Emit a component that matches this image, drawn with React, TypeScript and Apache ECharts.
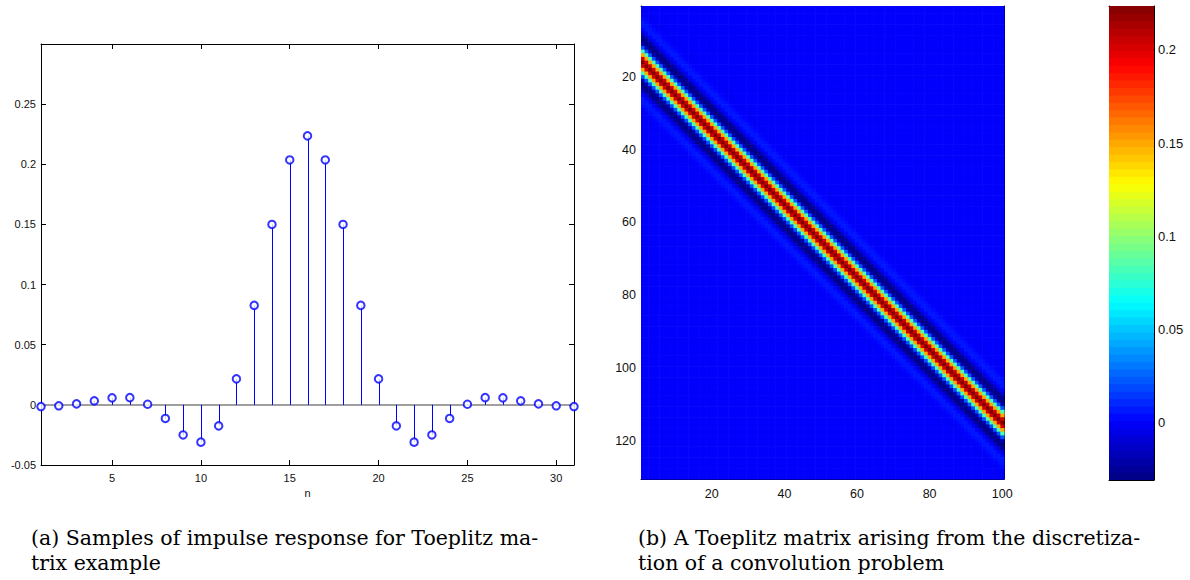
import React, { useEffect, useRef } from "react";
import * as echarts from "echarts";

// ---- Data ----
const N_INDEX = [1, 2, 3, 4, 5, 6, 7, 8, 9, 10, 11, 12, 13, 14, 15, 16, 17, 18, 19, 20, 21, 22, 23, 24, 25, 26, 27, 28, 29, 30, 31];
const H_VALUES = [
  -0.0014, -0.0008, 0.0008, 0.0033, 0.0058, 0.006, 0.0005, -0.0113, -0.025, -0.031, -0.0175,
  0.0216, 0.0827, 0.15, 0.2036, 0.2236, 0.2036, 0.15, 0.0827, 0.0216,
  -0.0175, -0.031, -0.025, -0.0113, 0.0005, 0.006, 0.0058, 0.0033, 0.0008, -0.0008, -0.0014,
];
const STEM_X_TICKS = [5, 10, 15, 20, 25, 30];
const STEM_Y_TICKS = [-0.05, 0, 0.05, 0.1, 0.15, 0.2, 0.25];
const MATRIX_COLS = 100;
const MATRIX_ROWS = MATRIX_COLS + H_VALUES.length - 1; // 130
const MAT_X_TICKS = [20, 40, 60, 80, 100];
const MAT_Y_TICKS = [20, 40, 60, 80, 100, 120];
const CBAR_TICKS = [0, 0.05, 0.1, 0.15, 0.2];
const CBAR_LEVELS = 64;
const JET = ["#000080", "#0000ff", "#0080ff", "#00ffff", "#80ff80", "#ffff00", "#ff8000", "#ff0000", "#800000"];
const CAPTION_A = ["(a) Samples of impulse response for Toeplitz ma-", "trix example"];
const CAPTION_B = ["(b) A Toeplitz matrix arising from the discretiza-", "tion of a convolution problem"];

const H_MIN = Math.min(...H_VALUES);
const H_MAX = Math.max(...H_VALUES);

// Toeplitz (convolution) matrix built from the impulse response
const MATRIX_DATA: number[][] = [];
for (let c = 1; c <= MATRIX_COLS; c++) {
  for (let r = 1; r <= MATRIX_ROWS; r++) {
    const k = r - c;
    const v = k >= 0 && k < H_VALUES.length ? H_VALUES[k] : 0;
    MATRIX_DATA.push([c, r, v]);
  }
}
// Colorbar levels
const CBAR_DATA: number[][] = [];
for (let i = 0; i < CBAR_LEVELS; i++) {
  const lo = H_MIN + (i * (H_MAX - H_MIN)) / CBAR_LEVELS;
  const hi = H_MIN + ((i + 1) * (H_MAX - H_MIN)) / CBAR_LEVELS;
  CBAR_DATA.push([lo, hi, (lo + hi) / 2]);
}

const FONT = "Liberation Sans";
const AX_LINE = { show: true, onZero: false, lineStyle: { color: "#000", width: 1 } };

function boxAxis(extra: any, ticks: number[] | null, labels: boolean, fontSize: number, margin: number) {
  return {
    type: "value",
    axisLine: AX_LINE,
    splitLine: { show: false },
    axisTick: ticks
      ? { show: true, inside: true, length: 5, customValues: ticks, lineStyle: { color: "#000" } }
      : { show: false },
    axisLabel: labels && ticks
      ? {
          show: true,
          customValues: ticks,
          fontFamily: FONT,
          fontSize,
          color: "#111",
          margin,
          formatter: (v: number) => String(+(+v).toFixed(4)),
        }
      : { show: false },
    ...extra,
  };
}

export default function App() {
  const ref = useRef<HTMLDivElement>(null);
  useEffect(() => {
    if (!ref.current) return;
    document.body.style.margin = "0";
    const chart = echarts.init(ref.current, undefined, { renderer: "svg" });
    const stemGrid = { left: 41, top: 44, width: 533, height: 421 };
    const matGrid = { left: 641, top: 6, width: 363, height: 473 };
    const cbGrid = { left: 1109, top: 6, width: 45, height: 474 };

    const captionText = (lines: string[], x: number) =>
      lines.map((t, i) => ({
        type: "text",
        left: x,
        top: 527 + i * 25,
        style: { text: t, fontFamily: "DejaVu Serif", fontSize: 20.5, fill: "#000" },
      }));

    chart.setOption({
      animation: false,
      backgroundColor: "#fff",
      grid: [
        { ...stemGrid, containLabel: false },
        { ...matGrid, containLabel: false },
        { ...cbGrid, containLabel: false },
      ],
      xAxis: [
        boxAxis({ gridIndex: 0, position: "bottom", min: 1, max: 31, name: "n", nameLocation: "middle", nameGap: 18,
          nameTextStyle: { fontFamily: FONT, fontSize: 11, color: "#111" } }, STEM_X_TICKS, true, 11, 7),
        boxAxis({ gridIndex: 0, position: "top", min: 1, max: 31 }, STEM_X_TICKS, false, 11, 7),
        boxAxis({ gridIndex: 1, position: "bottom", min: 0.5, max: MATRIX_COLS + 0.5 }, MAT_X_TICKS, true, 12.5, 8),
        boxAxis({ gridIndex: 1, position: "top", min: 0.5, max: MATRIX_COLS + 0.5 }, MAT_X_TICKS, false, 12.5, 8),
        boxAxis({ gridIndex: 2, position: "bottom", min: 0, max: 1 }, null, false, 12, 8),
        boxAxis({ gridIndex: 2, position: "top", min: 0, max: 1 }, null, false, 12, 8),
      ],
      yAxis: [
        boxAxis({ gridIndex: 0, position: "left", min: -0.05, max: 0.3 }, STEM_Y_TICKS, true, 11, 5),
        boxAxis({ gridIndex: 0, position: "right", min: -0.05, max: 0.3 }, STEM_Y_TICKS, false, 11, 5),
        boxAxis({ gridIndex: 1, position: "left", min: 0.5, max: MATRIX_ROWS + 0.5, inverse: true }, MAT_Y_TICKS, true, 12.5, 5),
        boxAxis({ gridIndex: 1, position: "right", min: 0.5, max: MATRIX_ROWS + 0.5, inverse: true }, MAT_Y_TICKS, false, 12.5, 5),
        boxAxis({ gridIndex: 2, position: "right", min: H_MIN, max: H_MAX }, CBAR_TICKS, true, 13, 4),
        boxAxis({ gridIndex: 2, position: "left", min: H_MIN, max: H_MAX }, CBAR_TICKS, false, 13, 4),
      ],
      visualMap: {
        type: "continuous",
        show: false,
        min: H_MIN,
        max: H_MAX,
        dimension: 2,
        seriesIndex: [2, 3],
        inRange: { color: JET },
      },
      series: [
        {
          type: "custom",
          xAxisIndex: 0,
          yAxisIndex: 0,
          data: N_INDEX.map((n, i) => [n, H_VALUES[i]]),
          z: 3,
          renderItem: (_p: any, api: any) => {
            const n = api.value(0);
            const v = api.value(1);
            const a = api.coord([n, 0]);
            const b = api.coord([n, v]);
            const x = Math.round(a[0]) + 0.5;
            return {
              type: "line",
              shape: { x1: x, y1: a[1], x2: x, y2: b[1] },
              style: { stroke: "#0000ff", lineWidth: 1 },
            };
          },
        },
        {
          type: "scatter",
          xAxisIndex: 0,
          yAxisIndex: 0,
          symbol: "emptyCircle",
          symbolSize: 7.5,
          z: 4,
          itemStyle: { color: "#0000ff", borderColor: "#0000ff", borderWidth: 1 },
          data: N_INDEX.map((n, i) => [n, H_VALUES[i]]),
          markLine: {
            silent: true,
            symbol: "none",
            label: { show: false },
            lineStyle: { color: "#7f7f7f", width: 1.6, type: "solid" },
            z: 2,
            data: [{ yAxis: 0 }],
          },
        },
        {
          type: "custom",
          xAxisIndex: 2,
          yAxisIndex: 2,
          clip: true,
          data: MATRIX_DATA,
          renderItem: (_p: any, api: any) => {
            const c = api.value(0);
            const r = api.value(1);
            const p = api.coord([c - 0.5, r - 0.5]);
            const q = api.coord([c + 0.5, r + 0.5]);
            return {
              type: "rect",
              shape: {
                x: Math.min(p[0], q[0]),
                y: Math.min(p[1], q[1]),
                width: Math.abs(q[0] - p[0]) + 0.6,
                height: Math.abs(q[1] - p[1]) + 0.6,
              },
              style: { fill: api.visual("color") },
            };
          },
        },
        {
          type: "custom",
          xAxisIndex: 4,
          yAxisIndex: 4,
          clip: true,
          data: CBAR_DATA,
          renderItem: (_p: any, api: any) => {
            const lo = api.value(0);
            const hi = api.value(1);
            const p = api.coord([0, hi]);
            const q = api.coord([1, lo]);
            return {
              type: "rect",
              shape: { x: p[0], y: p[1] - 0.5, width: q[0] - p[0], height: q[1] - p[1] + 1 },
              style: { fill: api.visual("color") },
            };
          },
        },
      ],
      graphic: [...captionText(CAPTION_A, 31), ...captionText(CAPTION_B, 638)],
    });
    return () => chart.dispose();
  }, []);
  return <div ref={ref} style={{ width: 1190, height: 580 }} />;
}
